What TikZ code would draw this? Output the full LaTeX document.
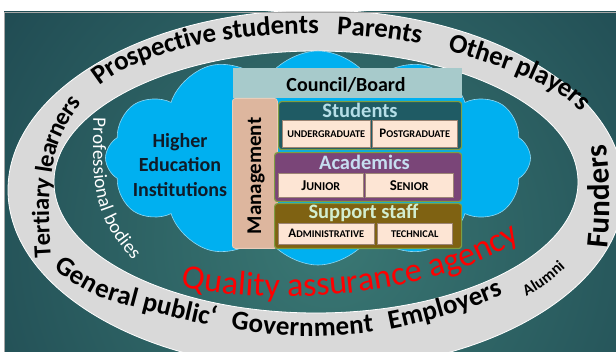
\documentclass[tikz,border=0pt]{standalone}
\usepackage{fontspec}
\setmainfont{Carlito}
\usetikzlibrary{shapes.symbols,decorations.text}

\definecolor{bgin}{HTML}{3A7874}
\definecolor{bgout}{HTML}{163A46}
\definecolor{ringgrey}{HTML}{D9D9D9}
\definecolor{cloudblue}{HTML}{00B0F0}
\definecolor{cloudedge}{HTML}{8FD8F4}
\definecolor{councilfill}{HTML}{A7CACB}
\definecolor{mgmtfill}{HTML}{DDB69E}
\definecolor{mgmtedge}{HTML}{E9CDBA}
\definecolor{stufill}{HTML}{1F5B64}
\definecolor{acafill}{HTML}{7A4578}
\definecolor{supfill}{HTML}{7F6212}
\definecolor{grpedge}{HTML}{7E9E42}
\definecolor{stutext}{HTML}{B5DEE7}
\definecolor{acatext}{HTML}{C6DDF0}
\definecolor{suptext}{HTML}{D2EDCF}
\definecolor{subfill}{HTML}{FDE5D4}
\definecolor{subedge}{HTML}{9C8474}
\definecolor{heitext}{HTML}{101B28}

\newcommand\bandfont{\fontsize{27}{27}\selectfont\bfseries}
\newcommand\leftfont{\fontsize{24.5}{24.5}\selectfont\bfseries}
\newcommand\funfont{\fontsize{31}{31}\selectfont\bfseries}
\newcommand\alumfont{\fontsize{16}{16}\selectfont\bfseries}
\newcommand\profont{\fontsize{19}{19}\selectfont}
\newcommand\qafont{\fontsize{34}{34}\selectfont}
\newcommand\scbig[1]{{\fontsize{13}{13}\selectfont #1}}
\newcommand\scsmall[1]{{\fontsize{10.3}{10.3}\selectfont #1}}
\newcommand\scBig[1]{{\fontsize{15}{15}\selectfont #1}}
\newcommand\scSmall[1]{{\fontsize{12}{12}\selectfont #1}}

% middle lines of the lettering in the grey ring
\def\toppath{plot[smooth] coordinates {(42,258) (40,200) (47,150) (64,112) (90,82) (130,57) (200,35) (270,26) (330,25) (400,31) (460,45) (520,65) (570,90) (605,125) (620,150)}}
\def\botpath{plot[smooth] coordinates {(58,262) (100,287) (150,302) (220,318) (300,327) (380,322) (450,305) (510,282) (540,266)}}

\tikzset{
  ringtext/.style n args={3}{decorate, decoration={text along path,
      text={|#1|#2}, text color=black, text align={left, left indent=#3}, raise=-9pt}},
  grpbox/.style={draw=grpedge, line width=1.2pt, rounded corners=3pt, anchor=north west, inner sep=0pt},
  subbox/.style={draw=subedge, line width=0.5pt, fill=subfill, anchor=north west, inner sep=0pt},
  subtext/.style={text=black, font=\bfseries, inner sep=0pt},
  grptitle/.style={font=\fontsize{20.5}{20.5}\selectfont\bfseries, anchor=base, inner sep=0pt},
}

\begin{document}
\begin{tikzpicture}[x=1pt,y=-1pt]
\useasboundingbox (0,0) rectangle (616,352);
\fill[white] (0,0) rectangle (616,352);

\begin{scope}
  \clip (4,12) rectangle (616,352);
  % dark teal backdrop
  \shade[inner color=bgin, outer color=bgout] (330,240) circle (560);
  % grey ring
  \fill[ringgrey, even odd rule] (316,190) ellipse [x radius=308, y radius=180]
        (316,182) ellipse [x radius=262, y radius=131];
  \draw[white, line width=0.8pt] (316,190) ellipse [x radius=308, y radius=180];
  \draw[white, line width=0.8pt] (316,182) ellipse [x radius=262, y radius=131];

  % lettering on the ring
  \path[ringtext={\leftfont}{Tertiary learners}{0pt}] \toppath;
  \path[ringtext={\bandfont}{Prospective students}{196pt}] \toppath;
  \path[ringtext={\bandfont}{Parents}{449pt}] \toppath;
  \path[ringtext={\bandfont}{Other players}{563pt}] \toppath;
  \path[ringtext={\bandfont}{General public‘}{0pt}] \botpath;
  \path[ringtext={\bandfont}{Government}{185pt}] \botpath;
  \path[ringtext={\bandfont}{Employers}{342pt}] \botpath;
  \path[decorate, decoration={text along path, text={|\alumfont|Alumni},
        text color=black, raise=-5pt}] (524,292) .. controls (542,282) .. (580,248);
  \path[decorate, decoration={text along path, text={|\funfont|Funders},
        text color=black, raise=-10pt}] (597,248) .. controls (601,210) and (601,170) .. (593,120);
\end{scope}
\draw[gray!70, line width=0.8pt] (4,352) -- (4,12) -- (616,12);

% the institution cloud
\node[cloud, cloud puffs=12, cloud puff arc=120, cloud ignores aspect,
      fill=cloudblue, draw=cloudedge, line width=0.6pt,
      minimum width=425pt, minimum height=214pt, inner sep=0pt] (cloud) at (318,158) {};

\path[decorate, decoration={text along path, text={|\profont|Professional bodies},
      text color=white, raise=-4.5pt}]
  plot[smooth] coordinates {(98,118) (98,170) (104,205) (117,233) (142,264) (155,276)};

\node[text=heitext, font=\fontsize{20}{24.5}\selectfont\bfseries, align=center, inner sep=0pt]
  (hei) at (180,165) {Higher\\Education\\Institutions};

% governance blocks
\node[fill=councilfill, minimum width=229pt, minimum height=30pt, anchor=north west, inner sep=0pt]
  (council) at (233,68) {};
\node[font=\fontsize{20}{20}\selectfont\bfseries, anchor=base, inner sep=0pt] (councilT) at (346,92) {Council/Board};

\node[fill=mgmtfill, draw=mgmtedge, line width=0.8pt, rounded corners=3pt,
      minimum width=45pt, minimum height=150pt, anchor=north west, inner sep=0pt] (mgmt) at (232,98) {};
\node[font=\fontsize{21}{21}\selectfont\bfseries, rotate=90, inner sep=0pt] (mgmtT) at (256,176) {Management};

\node[grpbox, fill=stufill, minimum width=183pt, minimum height=48pt] (stu) at (278,101) {};
\node[grptitle, text=stutext] (stuT) at (360,118) {Students};
\node[subbox, minimum width=88pt, minimum height=27pt] (ug) at (282,120) {};
\node[subbox, minimum width=85pt, minimum height=27pt] (pg) at (372,120) {};
\node[subtext] at (ug.center) {\scsmall{UNDERGRADUATE}};
\node[subtext] at (pg.center) {\scbig{P}\scsmall{OSTGRADUATE}};

\node[grpbox, fill=acafill, minimum width=187pt, minimum height=49pt] (aca) at (274,152) {};
\node[grptitle, text=acatext] (acaT) at (364.5,170) {Academics};
\node[subbox, minimum width=85pt, minimum height=24pt] (jun) at (278,173) {};
\node[subbox, minimum width=88pt, minimum height=24pt] (sen) at (365,173) {};
\node[subtext] at (jun.center) {\scBig{J}\scSmall{UNIOR}};
\node[subtext] at (sen.center) {\scBig{S}\scSmall{ENIOR}};

\node[grpbox, fill=supfill, minimum width=187pt, minimum height=45pt] (sup) at (274,203) {};
\node[grptitle, text=suptext] (supT) at (363.5,219) {Support staff};
\node[subbox, minimum width=96pt, minimum height=21pt] (adm) at (278,223) {};
\node[subbox, minimum width=75pt, minimum height=21pt] (tec) at (377,223) {};
\node[subtext] at (adm.center) {\scbig{A}\scsmall{DMINISTRATIVE}};
\node[subtext] at (tec.center) {\scsmall{TECHNICAL}};

% agency lettering
\path[decorate, decoration={text along path, text={|\qafont|Quality assurance agency},
      text color=red}] (181,286) .. controls (270,308) and (430,298) .. (520,240);
\end{tikzpicture}
\end{document}
